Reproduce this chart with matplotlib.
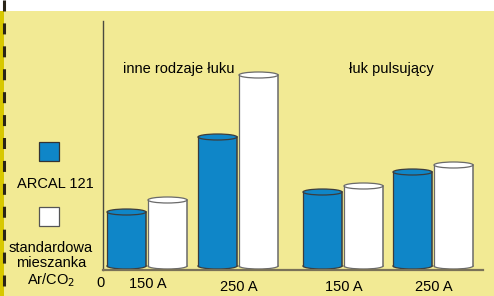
import matplotlib
matplotlib.use("Agg")
import matplotlib.pyplot as plt
from matplotlib.patches import Rectangle, Ellipse
from matplotlib.lines import Line2D

# bar heights (relative units)
arcal = [58, 133, 78, 98]
standard = [70, 195, 84, 105]
group_labels = ["150 A", "250 A", "150 A", "250 A"]
group_titles = ["inne rodzaje łuku", "łuk pulsujący"]
legend_labels = ["ARCAL 121", "standardowa\nmieszanka\nAr/CO$_2$"]

group_pos = [44, 135, 240, 330]
BLUE = "#0f86c8"
BG = "#f2ea94"
EDGE = "#4a4a40"

plt.rcParams["font.family"] = ["Liberation Sans", "DejaVu Sans"]

W, H = 494, 296
fig = plt.figure(figsize=(W / 100, H / 100), dpi=100)
fig.patch.set_facecolor(BG)

# white strip on top and dashed margin on the left
fig.add_artist(Rectangle((0, 1 - 11 / H), 1, 11 / H, transform=fig.transFigure,
                         facecolor="white", edgecolor="none"))
fig.add_artist(Rectangle((0, 0), 3.5 / W, 1 - 11 / H, transform=fig.transFigure,
                         facecolor="#d8c800", edgecolor="none"))
fig.add_artist(Line2D([4 / W, 4 / W], [1, 0], transform=fig.transFigure,
                      color="#2a2418", lw=2.2, dashes=(3.6, 3.9)))

ax = fig.add_axes([103 / W, 26 / H, 380 / W, 249 / H])
ax.set_xlim(0, 380)
ax.set_ylim(0, 249)
ax.patch.set_alpha(0)
for s in ["top", "right"]:
    ax.spines[s].set_visible(False)
ax.spines["left"].set_color(EDGE)
ax.spines["bottom"].set_color("#7a7258")
ax.spines["left"].set_linewidth(1.0)
ax.spines["bottom"].set_linewidth(1.6)
ax.set_xticks([])
ax.set_yticks([])

bw = 39
base = 4
eh = 6


def cylinder(xc, h, color):
    x0 = xc - bw / 2
    edge = "#3c3c3c" if color == BLUE else "#6a6a6a"
    ax.add_patch(Ellipse((xc, base), bw, eh, facecolor=color, edgecolor=edge, lw=0.9, zorder=2))
    ax.add_patch(Rectangle((x0, base), bw, h - base, facecolor=color, edgecolor="none", zorder=3))
    ax.plot([x0, x0], [base, h], color=edge, lw=0.9, zorder=4)
    ax.plot([x0 + bw, x0 + bw], [base, h], color=edge, lw=1.1, zorder=4)
    ax.add_patch(Ellipse((xc, h), bw, eh, facecolor=color, edgecolor=edge, lw=0.9, zorder=5))


for i, gx in enumerate(group_pos):
    cylinder(gx - 20.5, arcal[i], BLUE)
    cylinder(gx + 20.5, standard[i], "white")

fs = 10.5
ax.text(-3, -13, "0", ha="center", va="center", fontsize=fs)
label_y = [-14, -17, -17, -17]
for i, gx in enumerate(group_pos):
    ax.text(gx + 1, label_y[i], group_labels[i], ha="center", va="center", fontsize=fs)

ax.text(76, 201, group_titles[0], ha="center", va="center", fontsize=fs)
ax.text(288, 201, group_titles[1], ha="center", va="center", fontsize=fs)
for a in ax.texts:
    a.set_clip_on(False)

# legend on the left
fig.add_artist(Rectangle((39 / W, 1 - 161 / H), 20 / W, 19 / H, transform=fig.transFigure,
                         facecolor=BLUE, edgecolor="#333333", lw=0.9))
fig.add_artist(Rectangle((39 / W, 1 - 226 / H), 20 / W, 19 / H, transform=fig.transFigure,
                         facecolor="white", edgecolor="#555555", lw=0.9))
fig.text(55 / W, 1 - 184 / H, legend_labels[0], ha="center", va="center", fontsize=fs)
fig.text(51 / W, 1 - 265 / H, legend_labels[1], ha="center", va="center", fontsize=fs,
         linespacing=1.1)

fig.savefig("out.png", dpi=100, facecolor=BG)
